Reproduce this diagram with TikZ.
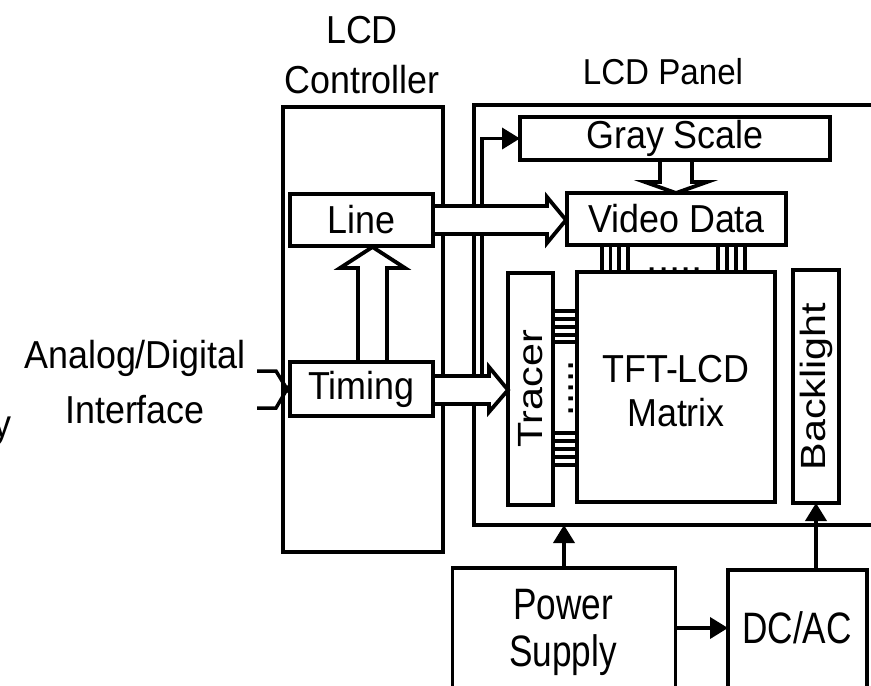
\documentclass[tikz,border=0pt]{standalone}
\usepackage{fontspec}
\setmainfont[FakeStretch=0.92]{Liberation Sans}
\newfontfamily\psfont[FakeStretch=0.8]{Liberation Sans}
\newfontfamily\rotfont[FakeStretch=1.18]{Liberation Sans}
\usetikzlibrary{arrows.meta}
\begin{document}
\begin{tikzpicture}[x=1pt,y=-1pt,
  every node/.style={inner sep=0pt, outer sep=0pt, font=\fontsize{39}{46}\selectfont},
  box/.style={draw, line width=3.8pt, rectangle},
  conn/.style={line width=3.8pt, -{Triangle[length=18pt,width=21pt]}},
  inarr/.style={line width=3.5pt, -{Triangle[length=8pt,width=9pt]}},
  bar/.style={line width=3.5pt},
  blockarr/.style={draw, line width=3.8pt, fill=white, line join=miter},
  rottxt/.style={rotate=90, font=\rotfont\fontsize{35}{40}\selectfont},
  dots/.style={font=\fontsize{44}{44}\selectfont},
  pstxt/.style={font=\psfont\fontsize{44}{47}\selectfont, align=center}]
\useasboundingbox (0,0) rectangle (871,686);

% outer frames
\node[box, minimum width=160, minimum height=445] (ctrl) at (363,329.5) {};
\node[box, minimum width=428, minimum height=420] (panel) at (688,315) {};

% titles
\node[align=center, font=\fontsize{39}{50}\selectfont] (ctrltitle) at (362,55) {LCD\\Controller};
\node[font=\fontsize{36}{40}\selectfont] (paneltitle) at (663,72) {LCD Panel};
\node[align=center, font=\fontsize{39}{55}\selectfont] (iface) at (135,382) {Analog/Digital\\Interface};
\node[anchor=base east] (frag) at (11,437) {y};

% inner boxes
\node[box, minimum width=310, minimum height=43] (gray) at (675,138.5) {Gray Scale};
\node[box, minimum width=219, minimum height=52] (video) at (676.5,219) {Video Data};
\node[box, minimum width=143, minimum height=52] (line) at (361.5,220) {Line};
\node[box, minimum width=143, minimum height=54] (timing) at (361.5,389) {Timing};
\node[box, minimum width=45, minimum height=232] (tracer) at (530.5,389) {};
\node[rottxt] (tracertxt) at (tracer.center) {Tracer};
\node[box, minimum width=198, minimum height=230] (matrix) at (676,387) {};
\node[align=center, font=\fontsize{39}{44}\selectfont] (matrixtxt) at (676,391) {TFT-LCD\\Matrix};
\node[box, minimum width=46, minimum height=233] (back) at (816,386.5) {};
\node[rottxt] (backtxt) at (back.center) {Backlight};

% power and DC/AC (cut by the lower edge)
\node[box, minimum width=223, minimum height=140] (power) at (564,638) {};
\node[pstxt] (powertxt) at (563,632) {Power\\Supply};
\node[box, minimum width=139, minimum height=130] (dcac) at (797.5,635) {};
\node[pstxt] (dcactxt) at (797,628) {DC/AC};

% buses Video Data -> Matrix
\foreach \x in {602,610.5,619,628,718,727,736,745}
  \draw[bar] (\x,245) -- (\x,272);
\node[dots] (vdots) at (675,270) {.....};
% buses Tracer -> Matrix
\foreach \y in {311,319,327,335,342,433,441,449,457,465}
  \draw[bar] (553,\y) -- (578,\y);
\node[dots, rotate=90] (tdots) at (571,388) {.....};

% feed to Gray Scale
\coordinate (gfeed) at (482,377);
\draw[conn] (gfeed) |- (gray.west);

% block arrows
\draw[blockarr] (line.east |- 0,206) -- (547,206) -- (547,197) -- (566,220) -- (547,243) -- (547,234) -- (line.east |- 0,234) -- cycle;
\draw[blockarr] (timing.east |- 0,376) -- (489,376) -- (489,367) -- (tracer.west |- 0,390) -- (489,412) -- (489,404) -- (timing.east |- 0,404) -- cycle;
\draw[blockarr] (358,362) -- (358,268) -- (340,268) -- (372.5,247) -- (405,268) -- (387,268) -- (387,362) -- cycle;
\draw[blockarr] (660,160) -- (660,182) -- (645,182) -- (676,193) -- (707,182) -- (692,182) -- (692,160) -- cycle;

% inputs
\coordinate (in1) at (257,371);
\coordinate (in2) at (257,408);
\draw[inarr] (in1) -- (276,371) -- ([yshift=-5]timing.west);
\draw[inarr] (in2) -- (276,408) -- ([yshift=5]timing.west);

% power connectors
\draw[conn] (power.north) -- (power.north |- panel.south);
\draw[conn] (power.east |- dcactxt) -- (dcac.west |- dcactxt);
\draw[conn] (back.south |- dcac.north) -- (back.south);
\end{tikzpicture}
\end{document}
